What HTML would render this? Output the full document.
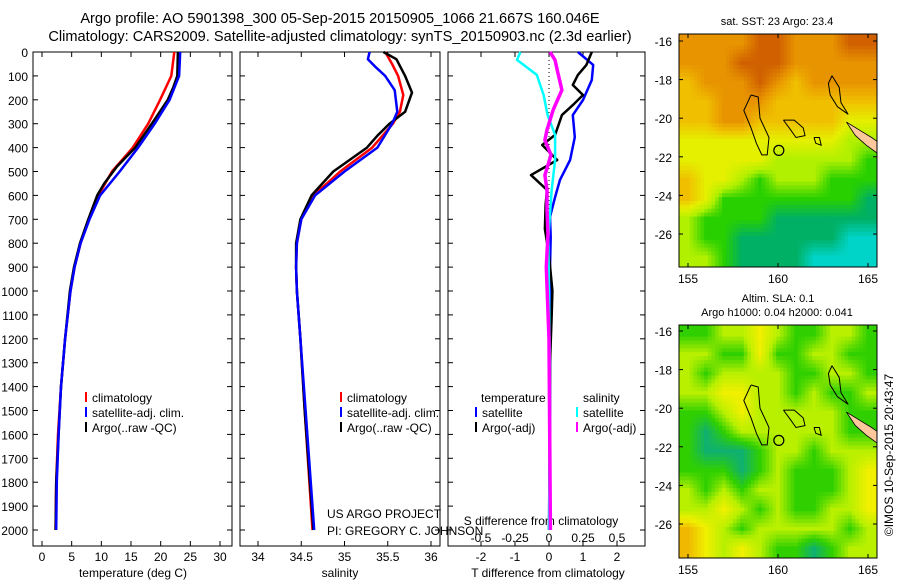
<!DOCTYPE html>
<html><head><meta charset="utf-8"><style>
body{margin:0;background:#fff;width:900px;height:580px;overflow:hidden}
svg{font-family:"Liberation Sans",sans-serif}
</style></head><body>
<svg id="c" width="900" height="580" xmlns="http://www.w3.org/2000/svg">
<text x="340" y="23" font-size="14.6" text-anchor="middle">Argo profile: AO 5901398_300 05-Sep-2015 20150905_1066 21.667S 160.046E</text>
<text x="340" y="41" font-size="14.6" text-anchor="middle">Climatology: CARS2009. Satellite-adjusted climatology: synTS_20150903.nc (2.3d earlier)</text>
<g id="g"></g>
</svg>
<script>
// ---------- data ----------
const depthTicks=[0,100,200,300,400,500,600,700,800,900,1000,1100,1200,1300,1400,1500,1600,1700,1800,1900,2000];
const tempTicks=[0,5,10,15,20,25,30];
const salTicks=[34,34.5,35,35.5,36];
const salTickLabels=["34","34.5","35","35.5","36"];
const tdiffTicks=[-2,-1,0,1,2];
const sdiffTicks=[-0.5,-0.25,0,0.25,0.5];
const sdiffTickLabels=["-0.5","-0.25","0","0.25","0.5"];

const tArgoDepth=[0,100,150,200,300,400,480,550,600,700,800,900,1000,1200,1400,1600,1800,2000];
const tArgo=[22.9,22.8,22.1,21.2,18.5,15.7,12.6,10.5,9.3,7.8,6.4,5.4,4.7,3.9,3.2,2.8,2.4,2.3];
const tClimDepth=[0,100,200,300,400,500,600,700,800,900,1000,1200,1400,1600,1800,2000];
const tClim=[22.3,21.8,19.9,17.9,15.3,11.8,9.5,7.9,6.5,5.5,4.8,3.9,3.2,2.7,2.4,2.3];
const tSat=[23.3,23.1,21.5,19.0,16.2,13.1,9.8,8.0,6.5,5.5,4.8,3.9,3.2,2.8,2.5,2.4];

const sArgoDepth=[0,30,100,170,250,300,350,400,500,600,700,800,900,1000,1200,1500,2000];
const sArgo=[35.45,35.6,35.7,35.78,35.7,35.52,35.38,35.26,34.87,34.62,34.49,34.44,34.44,34.45,34.49,34.54,34.64];
const sClimDepth=[0,50,100,180,250,300,400,500,600,700,800,900,1000,1200,1500,2000];
const sClim=[35.47,35.55,35.62,35.68,35.64,35.56,35.32,34.95,34.64,34.5,34.45,34.44,34.45,34.49,34.54,34.63];
const sSatDepth=[0,30,60,100,160,250,300,400,500,600,700,800,900,1000,1200,1500,2000];
const sSat=[35.29,35.27,35.35,35.47,35.58,35.61,35.55,35.38,35.0,34.66,34.5,34.45,34.44,34.45,34.49,34.55,34.65];

const dTDepth=[0,54,117,201,264,356,452,536,607,690,774,900,1000,1100,1300,1600,2000];
const dTSat=[0.85,1.3,1.26,1.0,0.7,0.76,0.62,0.32,0.18,0.03,0.05,0.03,0.05,0.04,0.03,0.03,0.02];
const dTArgoDepth=[0,54,96,138,180,222,264,347,389,452,515,577,640,740,850,1000,1100,1300,1600,2000];
const dTArgo=[1.26,1.1,0.85,0.7,1.0,0.7,0.38,0.18,-0.2,0.24,-0.53,-0.06,-0.1,-0.12,0,0.1,0.08,0.03,0.02,0.0];
const dSDepth=[0,33,96,180,264,347,452,577,777,1000,1300,1600,2000];
const dSSat=[-0.21,-0.235,-0.09,-0.04,-0.01,0.045,0.045,0.02,-0.005,0.0,0.005,0.005,0.0];
const dSArgoDepth=[0,33,75,159,243,326,368,431,515,577,662,762,900,1200,1600,2000];
const dSArgo=[0.007,0.044,0.06,0.095,0.03,-0.015,-0.03,0.015,-0.03,-0.015,-0.015,-0.007,-0.02,0.0,0.005,0.01];

const sstGrid=[
[1,1,1,1,0,0,1,1,1,0,0],[1,1,1,0,0,0,1,1,1,1,1],[2,1,1,1,0,1,2,1,1,1,1],[2,2,1,1,1,2,2,2,2,2,2],
[2,2,1,1,2,2,2,2,2,3,3],[3,3,3,3,3,3,3,3,3,4,4],[3,3,3,3,3,4,4,4,4,4,5],[2,3,3,4,5,4,4,4,5,5,5],
[2,3,5,5,5,5,5,5,5,5,6],[4,5,5,5,5,6,6,6,6,6,6],[4,5,5,6,6,6,6,6,6,7,7],[4,4,5,6,6,6,6,7,7,7,7]];
const slaGrid=[
[5,5,4,4,3,4,5,5,4,4,5],[4,4,5,5,3,5,5,4,4,5,5],[4,5,4,4,4,4,5,5,4,4,5],[4,4,3,3,4,4,5,4,5,5,4],
[5,5,4,3,4,4,4,4,4,5,5],[5,6,5,4,4,4,4,4,4,5,5],[5,6,6,6,5,4,4,5,4,4,4],[5,5,5,6,5,4,5,5,5,4,3],
[4,5,4,5,4,4,5,5,5,4,3],[4,4,3,4,5,4,5,5,4,4,3],[2,3,4,5,4,4,4,4,4,5,4],[2,3,4,3,4,5,5,6,5,4,4]];
const palette=[[208,96,0],[232,148,0],[240,192,0],[228,240,0],[176,240,0],[40,208,0],[0,176,100],[0,212,200]];
const slaPalette=[[208,96,0],[232,148,0],[240,184,0],[240,240,0],[184,240,0],[48,208,0],[16,176,112],[0,212,200]];
const lonTicks=[155,160,165];
const latTicks=[-16,-18,-20,-22,-24,-26];
const argoLon=160.046, argoLat=-21.667;

// ---------- helpers ----------
const NS="http://www.w3.org/2000/svg";
const G=document.getElementById('g');
function mk(t,a,p){const e=document.createElementNS(NS,t);for(const k in a)e.setAttribute(k,a[k]);(p||G).appendChild(e);return e;}
const Y0=52,Y1=530;
const yD=d=>Y0+(Y1-Y0)*d/2000;
const xT=v=>42+(220-42)*v/30;
const xS=v=>258+(431-258)*(v-34)/2;
const xdT=v=>549+34*v;
const xdS=v=>549+136*v;
const PB=546;
function panel(x0,x1,name){
  const r=mk('rect',{x:x0,y:Y0,width:x1-x0,height:PB-Y0,fill:'none',stroke:'#000','stroke-width':1});
  
  
  depthTicks.forEach(d=>{mk('line',{x1:x0,x2:x0+5,y1:yD(d),y2:yD(d),stroke:'#000'});mk('line',{x1:x1,x2:x1-5,y1:yD(d),y2:yD(d),stroke:'#000'});});
}
function line(xs,ds,xf,color,w,name){
  const pts=xs.map((v,i)=>xf(v).toFixed(1)+','+yD(ds[i]).toFixed(1)).join(' ');
  const p=mk('polyline',{points:pts,fill:'none',stroke:color,'stroke-width':w,'stroke-linejoin':'round'});
  
  
}
function txt(x,y,s,size,anchor,name){const t=mk('text',{x:x,y:y,'font-size':size,'text-anchor':anchor||'start'});t.textContent=s;
  
  
  return t;}

depthTicks.forEach(d=>txt(28,yD(d)+5,String(d),12,'end','y-tick-label'));

// panel 1
panel(33,232,'temperature-panel');
tempTicks.forEach(v=>{mk('line',{x1:xT(v),x2:xT(v),y1:Y0,y2:Y0+5,stroke:'#000'});mk('line',{x1:xT(v),x2:xT(v),y1:PB,y2:PB-5,stroke:'#000'});txt(xT(v),561,String(v),12,'middle','temp-x-tick-label');});
txt(133,577,'temperature (deg C)',12,'middle','temp-x-axis-title');
line(tClim,tClimDepth,xT,'#f00',2.5,'temp-climatology-line');
line(tArgo,tArgoDepth,xT,'#000',2.5,'temp-argo-line');
line(tSat,tClimDepth,xT,'#00f',2.5,'temp-satellite-line');
function legend3(x,y,n){
  [['#f00','climatology'],['#00f','satellite-adj. clim.'],['#000','Argo(..raw -QC)']].forEach((e,i)=>{
    const l=mk('line',{x1:x,x2:x,y1:y+i*15-10,y2:y+i*15,stroke:e[0],'stroke-width':2});
    
    
    txt(x+6,y+i*15,e[1],12,'start',n+'-legend-entry');});
}
legend3(86,402,'temp');

// panel 2
panel(240,440,'salinity-panel');
salTicks.forEach((v,i)=>{mk('line',{x1:xS(v),x2:xS(v),y1:Y0,y2:Y0+5,stroke:'#000'});mk('line',{x1:xS(v),x2:xS(v),y1:PB,y2:PB-5,stroke:'#000'});txt(xS(v),561,salTickLabels[i],12,'middle','sal-x-tick-label');});
txt(340,577,'salinity',12,'middle','sal-x-axis-title');
line(sClim,sClimDepth,xS,'#f00',2.5,'sal-climatology-line');
line(sArgo,sArgoDepth,xS,'#000',2.5,'sal-argo-line');
line(sSat,sSatDepth,xS,'#00f',2.5,'sal-satellite-line');
legend3(341,402,'sal');
txt(327,518,'US ARGO PROJECT',12,'start','project-credit');
txt(327,535,'PI: GREGORY C. JOHNSON',12,'start','pi-credit');

// panel 3
panel(448,645,'difference-panel');
mk('line',{x1:549,x2:549,y1:Y0,y2:Y1,stroke:'#000','stroke-dasharray':'1,3'});
tdiffTicks.forEach(v=>{mk('line',{x1:xdT(v),x2:xdT(v),y1:Y0,y2:Y0+5,stroke:'#000'});mk('line',{x1:xdT(v),x2:xdT(v),y1:PB,y2:PB-5,stroke:'#000'});txt(xdT(v),561,String(v),12,'middle','tdiff-x-tick-label');});
sdiffTicks.forEach((v,i)=>txt(xdS(v),542,sdiffTickLabels[i],12,'middle','sdiff-x-tick-label'));
txt(541,525,'S difference from climatology',12,'middle','sdiff-axis-title');
txt(548,577,'T difference from climatology',12,'middle','tdiff-x-axis-title');
line(dTSat,dTDepth,xdT,'#00f',2.5,'tdiff-satellite-line');
line(dTArgo,dTArgoDepth,xdT,'#000',2.5,'tdiff-argo-line');
line(dSSat,dSDepth,xdS,'#0ff',2.5,'sdiff-satellite-line');
line(dSArgo,dSArgoDepth,xdS,'#f0f',3.5,'sdiff-argo-line');
txt(481,402,'temperature',12,'start','diff-legend-temp-header');
txt(583,402,'salinity',12,'start','diff-legend-sal-header');
[['#00f',476,'satellite'],['#000',476,'Argo(-adj)'],['#0ff',577,'satellite'],['#f0f',577,'Argo(-adj)']].forEach((e,i)=>{
  const y=417+(i%2)*15;
  const l=mk('line',{x1:e[1],x2:e[1],y1:y-10,y2:y,stroke:e[0],'stroke-width':2});
  
  
  txt(e[1]+6,y,e[2],12,'start','diff-legend-entry');
});

// maps
const lonX=v=>688+(868-688)*(v-155)/10;
function colorAt(grid,pal,fx,fy){
  const nr=grid.length,nc=grid[0].length;
  fx=Math.max(0,Math.min(nc-1,fx));fy=Math.max(0,Math.min(nr-1,fy));
  const c0=Math.floor(fx),r0=Math.floor(fy),c1=Math.min(nc-1,c0+1),r1=Math.min(nr-1,r0+1);
  const ax=fx-c0,ay=fy-r0;
  const v=(grid[r0][c0]*(1-ax)+grid[r0][c1]*ax)*(1-ay)+(grid[r1][c0]*(1-ax)+grid[r1][c1]*ax)*ay;
  const i0=Math.floor(v),i1=Math.min(pal.length-1,i0+1),t=v-i0;
  const c=[0,1,2].map(k=>Math.round(pal[i0][k]*(1-t)+pal[i1][k]*t));
  return 'rgb('+c.join(',')+')';
}
function map(top,lat16,lat26,grid,pal,name){
  const latY=v=>lat16+(lat26-lat16)*(v+16)/(-10);
  const x0=679,x1=877,y1=top+233;
  const g=mk('g',{});
  
  
  const nr=grid.length,nc=grid[0].length,S=5;
  const cw=(x1-x0)/(nc*S),ch=(y1-top)/(nr*S);
  for(let r=0;r<nr*S;r++)for(let c=0;c<nc*S;c++){
    const fx=(c+0.5)/S-0.5,fy=(r+0.5)/S-0.5;
    mk('rect',{x:(x0+c*cw).toFixed(2),y:(top+r*ch).toFixed(2),width:(cw+0.5).toFixed(2),height:(ch+0.5).toFixed(2),fill:colorAt(grid,pal,fx,fy)},g);
  }
  mk('polygon',{points:[[163.8,-20.2],[164.5,-20.6],[165.2,-21.0],[165.5,-21.2],[165.5,-21.8],[164.9,-21.4],[164.3,-20.9]].map(p=>lonX(p[0])+','+latY(p[1])).join(' '),fill:'#fcc89c',stroke:'#000','stroke-width':0.8},g);
  const cont=[[[158.5,-18.8],[158.9,-18.9],[159.0,-20.0],[159.5,-21.0],[159.4,-21.9],[159.1,-21.9],[158.8,-21.3],[158.5,-20.5],[158.1,-19.6],[158.5,-18.8]],
   [[163.0,-17.8],[163.4,-18.4],[163.5,-19.2],[163.9,-19.8],[163.3,-19.4],[162.9,-18.8],[162.8,-18.2],[163.0,-17.8]],
   [[160.3,-20.1],[160.9,-20.1],[161.4,-20.5],[161.5,-20.9],[161.0,-21.0],[160.7,-20.6],[160.3,-20.1]],
   [[162.0,-21.0],[162.3,-21.0],[162.4,-21.4],[162.1,-21.3],[162.0,-21.0]]];
  cont.forEach(c=>mk('polyline',{points:c.map(p=>lonX(p[0])+','+latY(p[1])).join(' '),fill:'none',stroke:'#000','stroke-width':1},g));
  const ci=mk('circle',{cx:lonX(argoLon),cy:latY(argoLat),r:5,fill:'none',stroke:'#000','stroke-width':1.2});
  
  
  mk('rect',{x:x0,y:top,width:x1-x0,height:y1-top,fill:'none',stroke:'#000'},g);
  latTicks.forEach(v=>{mk('line',{x1:x0,x2:x0+4,y1:latY(v),y2:latY(v),stroke:'#000'});mk('line',{x1:x1,x2:x1-4,y1:latY(v),y2:latY(v),stroke:'#000'});txt(672,latY(v)+5,String(v),12,'end','map-lat-tick-label');});
  lonTicks.forEach(v=>{mk('line',{x1:lonX(v),x2:lonX(v),y1:top,y2:top+4,stroke:'#000'});mk('line',{x1:lonX(v),x2:lonX(v),y1:y1,y2:y1-4,stroke:'#000'});txt(lonX(v),y1+16,String(v),12,'middle','map-lon-tick-label');});
}
map(34,41,234,sstGrid,palette,'sst-map');
txt(777,25,'sat. SST: 23 Argo: 23.4',11,'middle','sst-map-title');
map(325,331,524,slaGrid,slaPalette,'sla-map');
txt(778,302,'Altim. SLA: 0.1',11,'middle','sla-map-title');
txt(777,316,'Argo h1000: 0.04 h2000: 0.041',11,'middle','sla-map-subtitle');
const r=txt(0,0,'©IMOS 10-Sep-2015 20:43:47',12,'middle','timestamp-credit');
r.setAttribute('transform','translate(893,455) rotate(-90)');
</script>
</body></html>
